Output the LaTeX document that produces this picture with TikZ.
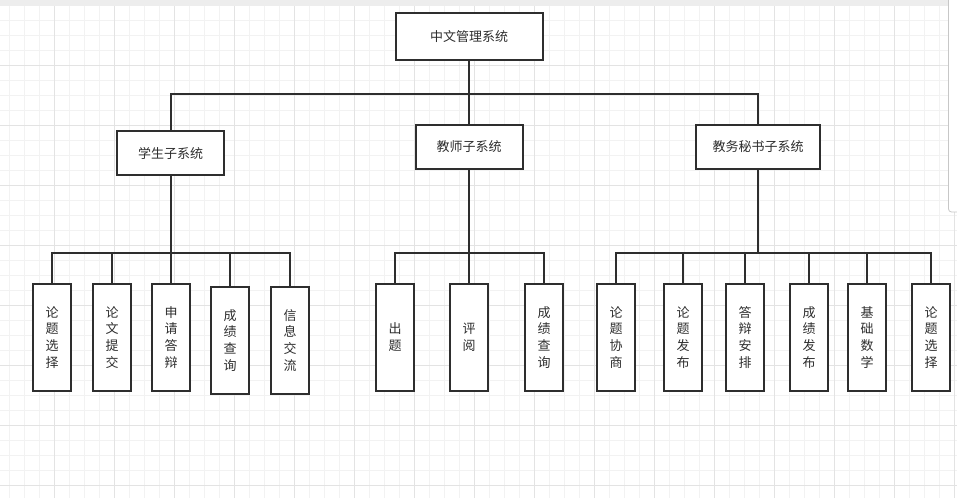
\documentclass[tikz,border=0pt]{standalone}
\usepackage{fontspec}
\setmainfont{Noto Sans CJK SC}
\usetikzlibrary{positioning}
\definecolor{ink}{HTML}{2E2E2E}
\tikzset{
  box/.style={draw=ink, line width=2pt, fill=white, text=ink, inner sep=0pt,
    font=\fontsize{13}{16.7}\selectfont, align=center},
  topbox/.style={box, minimum width=147pt, minimum height=47pt},
  subbox/.style={box, minimum width=107pt, minimum height=44pt},
  leafbox/.style={box, minimum width=38.5pt, minimum height=107.5pt},
  link/.style={draw=ink, line width=2pt},
  gridminor/.style={draw=black!5, line width=0.8pt},
  gridmajor/.style={draw=black!11, line width=0.8pt}
}
\begin{document}
\begin{tikzpicture}[x=1pt, y=-1pt]
  \useasboundingbox (0,0) rectangle (957,498);
  %% background grid
  \foreach \x in {9,24,...,954} \draw[gridminor] (\x,0) -- (\x,498);
  \foreach \y in {5,20,...,495} \draw[gridminor] (0,\y) -- (957,\y);
  \foreach \x in {54,114,...,954} \draw[gridmajor] (\x,0) -- (\x,498);
  \foreach \y in {65,125,...,485} \draw[gridmajor] (0,\y) -- (957,\y);
  \fill[black!7] (0,0) rectangle (957,6);
  \fill[white] (949,0) rectangle (957,212);
  \draw[black!22, line width=0.8pt, rounded corners=3pt] (948.5,0) -- (948.5,212) -- (957,212);

  %% top level
  \node[topbox] (root) at (469, 36.5) {中文管理系统};
  %% sub systems
  \node[subbox] (stu) at (170.5, 153) {学生子系统};
  \node[subbox] (tea) at (469, 147) {教师子系统};
  \node[subbox, minimum width=124pt] (sec) at (758, 147) {教务秘书子系统};
  \coordinate (busA) at (0, 94);
  \draw[link] (root.south) -- (root.south |- busA);
  \draw[link] (stu.north) -- (stu.north |- busA) -- (sec.north |- busA) -- (sec.north);
  \draw[link] (tea.north) -- (tea.north |- busA);

  \coordinate (busB) at (0, 252.7);
  %% student leaves
  \node[leafbox] (s1) at (52, 337.3) {论\\题\\选\\择};
  \node[leafbox] (s2) at (112, 337.3) {论\\文\\提\\交};
  \node[leafbox] (s3) at (171, 337.3) {申\\请\\答\\辩};
  \node[leafbox] (s4) at (230, 340.3) {成\\绩\\查\\询};
  \node[leafbox] (s5) at (290, 340.3) {信\\息\\交\\流};
  \draw[link] (stu.south) -- (stu.south |- busB);
  \draw[link] (s1.north) -- (s1.north |- busB) -- (s5.north |- busB) -- (s5.north);
  \draw[link] (s2.north) -- (s2.north |- busB);
  \draw[link] (s3.north) -- (s3.north |- busB);
  \draw[link] (s4.north) -- (s4.north |- busB);

  %% teacher leaves
  \node[leafbox] (t1) at (395, 337.3) {出\\题};
  \node[leafbox] (t2) at (469, 337.3) {评\\阅};
  \node[leafbox] (t3) at (544, 337.3) {成\\绩\\查\\询};
  \draw[link] (tea.south) -- (tea.south |- busB);
  \draw[link] (t1.north) -- (t1.north |- busB) -- (t3.north |- busB) -- (t3.north);
  \draw[link] (t2.north) -- (t2.north |- busB);

  %% secretary leaves
  \node[leafbox] (m1) at (616, 337.3) {论\\题\\协\\商};
  \node[leafbox] (m2) at (683, 337.3) {论\\题\\发\\布};
  \node[leafbox] (m3) at (745, 337.3) {答\\辩\\安\\排};
  \node[leafbox] (m4) at (809, 337.3) {成\\绩\\发\\布};
  \node[leafbox] (m5) at (867, 337.3) {基\\础\\数\\学};
  \node[leafbox] (m6) at (931, 337.3) {论\\题\\选\\择};
  \draw[link] (sec.south) -- (sec.south |- busB);
  \draw[link] (m1.north) -- (m1.north |- busB) -- (m6.north |- busB) -- (m6.north);
  \draw[link] (m2.north) -- (m2.north |- busB);
  \draw[link] (m3.north) -- (m3.north |- busB);
  \draw[link] (m4.north) -- (m4.north |- busB);
  \draw[link] (m5.north) -- (m5.north |- busB);
\end{tikzpicture}
\end{document}
